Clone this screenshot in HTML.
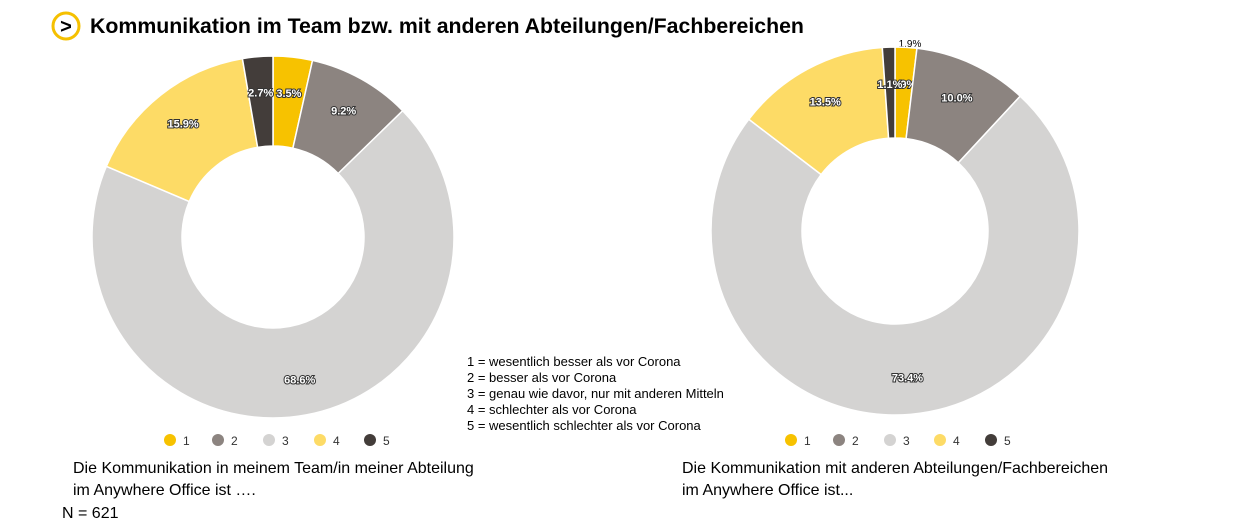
<!DOCTYPE html>
<html><head><meta charset="utf-8"><style>
body{margin:0;width:1238px;height:524px;background:#fff;overflow:hidden;font-family:"Liberation Sans",Arial,sans-serif;}
svg{position:absolute;left:0;top:0}
</style></head><body>
<svg id="s" width="1238" height="524" xmlns="http://www.w3.org/2000/svg">
<circle cx="66" cy="26" r="13" fill="#fff" stroke="#f5c000" stroke-width="3"/>
<text x="66" y="33" text-anchor="middle" font-size="20" font-weight="bold" fill="#000" font-family="Liberation Sans">&gt;</text>
<text x="90" y="33" font-size="21.3" font-weight="bold" fill="#000" font-family="Liberation Sans">Kommunikation im Team bzw. mit anderen Abteilungen/Fachbereichen</text>
<g font-size="13" fill="#000" font-family="Liberation Sans">
<text x="467" y="366">1 = wesentlich besser als vor Corona</text>
<text x="467" y="382">2 = besser als vor Corona</text>
<text x="467" y="398">3 = genau wie davor, nur mit anderen Mitteln</text>
<text x="467" y="414">4 = schlechter als vor Corona</text>
<text x="467" y="430">5 = wesentlich schlechter als vor Corona</text>
</g>
<g font-size="16" fill="#000" font-family="Liberation Sans">
<text x="73" y="473">Die Kommunikation in meinem Team/in meiner Abteilung</text>
<text x="73" y="495">im Anywhere Office ist ….</text>
<text x="62" y="518">N = 621</text>
<text x="682" y="473">Die Kommunikation mit anderen Abteilungen/Fachbereichen</text>
<text x="682" y="495">im Anywhere Office ist...</text>
</g>
<text x="910" y="47" font-size="10" text-anchor="middle" fill="#000">1,9%</text>
</svg>
<script>
const s=document.getElementById('s');const NS='http://www.w3.org/2000/svg';
const cols=['#f7c200','#8c8480','#d4d3d2','#fddb66','#433d3a'];
function donut(cx,cy,R,r,vals,labels){
 let a=0;const tot=vals.reduce((x,y)=>x+y,0);
 vals.forEach((v,i)=>{const a0=a/tot*2*Math.PI,a1=(a+v)/tot*2*Math.PI;a+=v;
  const p=(rr,t)=>[cx+rr*Math.sin(t),cy-rr*Math.cos(t)];
  const [x0,y0]=p(R,a0),[x1,y1]=p(R,a1),[x2,y2]=p(r,a1),[x3,y3]=p(r,a0);const lg=a1-a0>Math.PI?1:0;
  const e=document.createElementNS(NS,'path');
  e.setAttribute('d',`M${x0} ${y0}A${R} ${R} 0 ${lg} 1 ${x1} ${y1}L${x2} ${y2}A${r} ${r} 0 ${lg} 0 ${x3} ${y3}Z`);
  e.setAttribute('fill',cols[i]);e.setAttribute('stroke','#fff');e.setAttribute('stroke-width','1.5');s.appendChild(e);
  const m=(a0+a1)/2,[lx,ly]=p(R*0.8,m);
  const t=document.createElementNS(NS,'text');t.setAttribute('x',lx);t.setAttribute('y',ly+4);
  t.setAttribute('text-anchor','middle');t.setAttribute('font-size','11');t.setAttribute('font-weight','bold');
  t.setAttribute('fill','#fff');t.setAttribute('stroke','#333');t.setAttribute('stroke-width','2');t.setAttribute('paint-order','stroke');
  t.textContent=labels[i];s.appendChild(t);});
}
donut(273,237,181,91,[3.5,9.2,68.6,15.9,2.7],['3.5%','9.2%','68.6%','15.9%','2.7%']);
donut(895,231,184,93,[1.9,10.0,73.4,13.5,1.1],['1.9%','10.0%','73.4%','13.5%','1.1%']);
function legend(xs,y){xs.forEach((x,i)=>{const c=document.createElementNS(NS,'circle');c.setAttribute('cx',x);c.setAttribute('cy',y);c.setAttribute('r',6);c.setAttribute('fill',cols[i]);s.appendChild(c);
 const t=document.createElementNS(NS,'text');t.setAttribute('x',x+13);t.setAttribute('y',y+5);t.setAttribute('font-size','12');t.setAttribute('fill','#333');t.textContent=i+1;s.appendChild(t);});}
legend([170,218,269,320,370],440);legend([791,839,890,940,991],440);
</script>
</body></html>
